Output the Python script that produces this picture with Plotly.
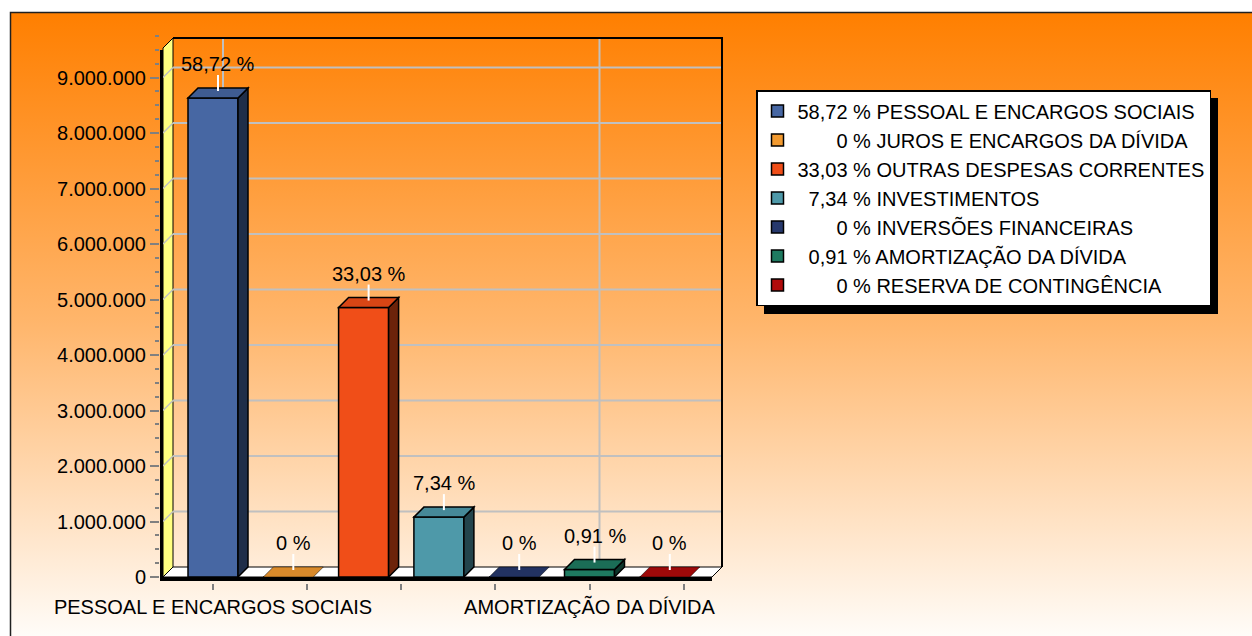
import base64
import plotly.graph_objects as go

# ---------------- data ----------------
categories = ["PESSOAL E ENCARGOS SOCIAIS", "JUROS E ENCARGOS DA DÍVIDA",
              "OUTRAS DESPESAS CORRENTES", "INVESTIMENTOS",
              "INVERSÕES FINANCEIRAS", "AMORTIZAÇÃO DA DÍVIDA",
              "RESERVA DE CONTINGÊNCIA"]
values = [8630000, 0, 4855000, 1079000, 0, 134000, 0]
percents = [58.72, 0, 33.03, 7.34, 0, 0.91, 0]
axis_label_idx = [0, 5]
y_ticks = [0, 1000000, 2000000, 3000000, 4000000, 5000000, 6000000, 7000000, 8000000, 9000000]

# ---------------- styles ----------------
front_colors = ["#4767A3", "#F29A30", "#F04E18", "#4E99A9", "#26386C", "#1E7A60", "#B00A0A"]
FONT = "Arial, 'Liberation Sans', sans-serif"
W, H = 1252, 636

# pixel geometry of the 3D frame
PX0, PXU = 213.0, 75.3          # pixel of category 0, pixels per category
PY0, PYU = 577.0, 55.5e-6       # pixel of value 0, pixels per unit
def xd(px): return (px - PX0) / PXU
def yd(py): return (PY0 - py) / PYU

box_l, box_r, box_t, box_b = 160, 724, 35, 583
x_range = [xd(box_l), xd(box_r)]
y_range = [yd(box_b), yd(box_t)]
dx, dy = 10 / PXU, 10 / PYU
x0f, xfr, xbr = xd(163), xd(712), xd(722)
ytop_f = yd(48)
ytop_b = ytop_f + dy
bar_w = 50 / PXU


def shade(hexc, f):
    h = hexc.lstrip("#")
    r, g, b = (int(h[i:i + 2], 16) for i in (0, 2, 4))
    return "#%02X%02X%02X" % (int(r * f), int(g * f), int(b * f))


def fmt_pct(p):
    return "0" if p == 0 else f"{p:.2f}".replace(".", ",")


def text_w(s):
    return sum(0.278 if c in ",. " else 0.556 for c in s)


pct_txt = [fmt_pct(p) for p in percents]
max_w = max(text_w(s) for s in pct_txt)
legend_names = ["\u00a0" * round((max_w - text_w(s)) / 0.278) + s + " % " + c
                for s, c in zip(pct_txt, categories)]

fig = go.Figure()
for i, (c, v) in enumerate(zip(categories, values)):
    fig.add_trace(go.Bar(
        x=[i], y=[v], name=legend_names[i], width=bar_w,
        marker=dict(color=front_colors[i], line=dict(color="black", width=1.5)),
        hoverinfo="skip"))

shapes = []
# yellow left wall
shapes.append(dict(type="path", xref="x", yref="y", layer="below",
                   path=f"M{x0f},0 L{x0f},{ytop_f} L{x0f+dx},{ytop_b} L{x0f+dx},{dy} Z",
                   fillcolor="#FFFF80", line=dict(color="black", width=1)))
# back-wall gridlines + diagonal on wall
for t in y_ticks[1:]:
    shapes.append(dict(type="line", xref="x", yref="y", layer="below",
                       x0=x0f + dx, x1=xbr, y0=t + dy, y1=t + dy,
                       line=dict(color="#C0C0C0", width=2)))
    shapes.append(dict(type="line", xref="x", yref="y", layer="below",
                       x0=x0f, x1=x0f + dx, y0=t, y1=t + dy,
                       line=dict(color="#C0C0C0", width=1.5)))
for k in axis_label_idx:
    shapes.append(dict(type="line", xref="x", yref="y", layer="below",
                       x0=k + dx, x1=k + dx, y0=dy, y1=ytop_b,
                       line=dict(color="#C0C0C0", width=2)))
# back wall border
shapes.append(dict(type="path", xref="x", yref="y", layer="below",
                   path=f"M{x0f+dx},{ytop_b} L{xbr},{ytop_b} L{xbr},{dy}",
                   line=dict(color="black", width=2)))
# floor
shapes.append(dict(type="path", xref="x", yref="y", layer="below",
                   path=f"M{x0f},0 L{xfr},0 L{xbr},{dy} L{x0f+dx},{dy} Z",
                   fillcolor="white", line=dict(color="black", width=1)))
shapes.append(dict(type="rect", xref="x", yref="y", layer="below",
                   x0=x0f - 3 / PXU, x1=xfr, y0=0, y1=-4 / PYU,
                   fillcolor="black", line=dict(width=0)))
# thick left axis line
shapes.append(dict(type="rect", xref="x", yref="y", layer="below",
                   x0=x0f - 3 / PXU, x1=x0f, y0=-4 / PYU, y1=ytop_f - 2 / PYU,
                   fillcolor="black", line=dict(width=0)))

annotations = []
for i, v in enumerate(values):
    xl, xr = i - bar_w / 2, i + bar_w / 2
    if v > 0:
        shapes.append(dict(type="path", xref="x", yref="y", layer="above",
                           path=f"M{xr},0 L{xr+dx},{dy} L{xr+dx},{v+dy} L{xr},{v} Z",
                           fillcolor=shade(front_colors[i], 0.45),
                           line=dict(color="black", width=1.5)))
    shapes.append(dict(type="path", xref="x", yref="y", layer="above",
                       path=f"M{xl},{v} L{xl+dx},{v+dy} L{xr+dx},{v+dy} L{xr},{v} Z",
                       fillcolor=shade(front_colors[i], 0.9),
                       line=dict(color="black", width=1.5 if v > 0 else 0.5)))
    shapes.append(dict(type="line", xref="x", yref="y", layer="above",
                       ysizemode="pixel", yanchor=v + dy / 2,
                       x0=i + dx / 2, x1=i + dx / 2, y0=2, y1=18,
                       line=dict(color="white", width=2)))
    annotations.append(dict(x=i + dx / 2, y=v + dy / 2, xref="x", yref="y",
                            text=f"{pct_txt[i]} %", showarrow=False, yshift=29,
                            font=dict(size=20, color="black", family=FONT)))

# legend + shadow
lg_l, lg_t, lg_r, lg_b = 756, 90, 1210, 306
shapes.append(dict(type="rect", xref="paper", yref="paper", layer="below",
                   x0=(lg_l + 8) / W, x1=(lg_r + 8) / W,
                   y0=1 - (lg_b + 8) / H, y1=1 - (lg_t + 8) / H,
                   fillcolor="black", line=dict(width=0)))
# outer chart frame
shapes.append(dict(type="rect", xref="paper", yref="paper", layer="below",
                   x0=10.5 / W, x1=1.02, y0=-0.02, y1=1 - 12.5 / H,
                   line=dict(color="#202020", width=1.5)))

svg = ('<svg xmlns="http://www.w3.org/2000/svg" width="100" height="100" '
       'viewBox="0 0 100 100" preserveAspectRatio="none"><defs>'
       '<linearGradient id="g" x1="0" y1="0" x2="0" y2="1">'
       '<stop offset="0" stop-color="#FF7F00"/>'
       '<stop offset="0.5" stop-color="#FFB66C"/>'
       '<stop offset="1" stop-color="#FFFCF8"/>'
       '</linearGradient></defs><rect width="100" height="100" fill="url(#g)"/></svg>')
src = "data:image/svg+xml;base64," + base64.b64encode(svg.encode()).decode()

fig.update_layout(
    width=W, height=H, autosize=False,
    margin=dict(l=0, r=0, t=0, b=0, pad=0, autoexpand=False),
    paper_bgcolor="white", plot_bgcolor="rgba(0,0,0,0)",
    barmode="overlay", separators=",.",
    font=dict(family=FONT, size=20, color="black"),
    showlegend=True,
    legend=dict(x=lg_l / W, y=1 - lg_t / H, xanchor="left", yanchor="top",
                bgcolor="white", bordercolor="black", borderwidth=1.5,
                font=dict(size=20, family=FONT), traceorder="normal",
                itemclick=False, itemdoubleclick=False),
    images=[dict(source=src, xref="paper", yref="paper", x=10 / W, y=1 - 12 / H,
                 sizex=(W - 10) / W, sizey=(H - 12) / H, xanchor="left",
                 yanchor="top", sizing="stretch", layer="below")],
    shapes=shapes, annotations=annotations,
    xaxis=dict(domain=[box_l / W, box_r / W], range=x_range, automargin=False,
               showgrid=False, zeroline=False, showline=False,
               tickmode="array", tickvals=axis_label_idx,
               ticktext=[categories[k] for k in axis_label_idx],
               ticks="outside", ticklen=6, tickwidth=2, tickcolor="#808080",
               minor=dict(tickmode="linear", tick0=0, dtick=1.25, ticks="outside",
                          ticklen=6, tickwidth=2, tickcolor="#808080"),
               tickfont=dict(size=20, family=FONT)),
    yaxis=dict(domain=[1 - box_b / H, 1 - box_t / H], range=y_range, automargin=False,
               showgrid=False, zeroline=False, showline=False,
               tickmode="array", tickvals=y_ticks, tickformat=",d",
               ticks="outside", ticklen=9, tickwidth=2, tickcolor="#808080",
               minor=dict(tickmode="linear", tick0=0, dtick=250000, ticks="outside",
                          ticklen=4, tickwidth=2, tickcolor="#808080"),
               tickfont=dict(size=20, family=FONT)),
)

fig.write_html("out.html", config={"displayModeBar": False},
               post_script="document.body.style.margin='0';document.body.style.overflow='hidden';")
